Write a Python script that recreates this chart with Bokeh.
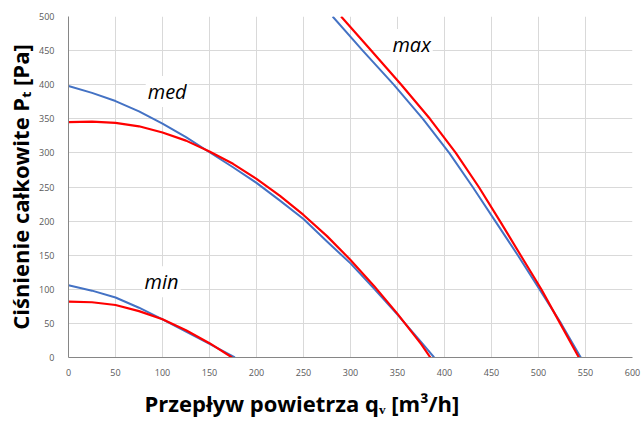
import math
from bokeh.plotting import figure
from bokeh.models import Label, FixedTicker, Range1d, Title
from bokeh.embed import file_html
from bokeh.resources import INLINE

# ---- data ----
x_ticks = [0, 50, 100, 150, 200, 250, 300, 350, 400, 450, 500, 550, 600]
y_ticks = [0, 50, 100, 150, 200, 250, 300, 350, 400, 450, 500]

min_blue_q = [0, 25, 50, 75, 100, 125, 150, 177]
min_blue_p = [106, 98, 88, 73, 56, 38, 20, 0]
min_red_q = [0, 25, 50, 75, 100, 125, 150, 174]
min_red_p = [82, 81, 77, 68, 56, 40, 21, 0]

med_blue_q = [0, 25, 50, 75, 100, 125, 150, 175, 200, 225, 250, 275, 300, 325, 350, 375, 389]
med_blue_p = [398, 388, 376, 361, 343, 323, 301, 279, 256, 230, 203, 170, 138, 101, 63, 23, 0]
med_red_q = [0, 25, 50, 75, 100, 125, 150, 175, 200, 225, 250, 275, 300, 325, 350, 375, 385]
med_red_p = [345, 346, 344, 339, 330, 318, 302, 284, 262, 237, 209, 178, 143, 105, 64, 20, 0]

max_blue_q = [281, 313, 346, 377, 405, 430, 454, 478, 501, 524, 545]
max_blue_p = [500, 450, 400, 350, 300, 250, 200, 150, 100, 50, 0]
max_red_q = [290, 322, 354, 384.5, 412, 436.5, 459, 481, 503, 523, 543]
max_red_p = [500, 450, 400, 350, 300, 250, 200, 150, 100, 50, 0]

curve_names = ["med", "min", "max"]
name_q = [105, 99, 365]
name_p = [390, 111, 459]

x_title = "Przepływ powietrza qᵥ [m³/h]"
y_title = "Ciśnienie całkowite Pₜ [Pa]"

BLUE = "#4472C4"
RED = "#FF0000"

p = figure(width=641, height=424, x_range=Range1d(0, 600), y_range=Range1d(0, 500),
           output_backend="svg", toolbar_location=None,
           min_border_left=67, min_border_right=9, min_border_top=16, min_border_bottom=67)

p.outline_line_color = None
p.background_fill_color = "white"

for ax, ticks in ((p.xaxis, x_ticks), (p.yaxis, y_ticks)):
    ax.ticker = FixedTicker(ticks=ticks)
    ax.major_tick_line_color = None
    ax.minor_tick_line_color = None
    ax.axis_line_color = "#868686"
    ax.axis_line_width = 1
    ax.major_label_text_font = "Open Sans"
    ax.major_label_text_font_size = "9px"
    ax.major_label_text_color = "#595959"
p.xaxis.major_label_standoff = 5
p.yaxis.major_label_standoff = 8

p.xgrid.ticker = FixedTicker(ticks=x_ticks)
p.ygrid.ticker = FixedTicker(ticks=y_ticks)
p.grid.grid_line_color = "#d9d9d9"
p.grid.grid_line_width = 1

for name, xq, yp in zip(curve_names, name_q, name_p):
    p.add_layout(Label(x=xq, y=yp, text=name, text_font="Open Sans", text_font_style="italic",
                       text_font_size="20px", text_color="black", text_align="center",
                       text_baseline="alphabetic", background_fill_color="white", padding=2,
                       level="underlay"))

for q, pr, c, w in ((min_blue_q, min_blue_p, BLUE, 2), (min_red_q, min_red_p, RED, 2.2),
                    (med_blue_q, med_blue_p, BLUE, 2), (med_red_q, med_red_p, RED, 2.2),
                    (max_blue_q, max_blue_p, BLUE, 2), (max_red_q, max_red_p, RED, 2.2)):
    p.line(q, pr, line_color=c, line_width=w, line_join="round")

p.add_layout(Title(text=x_title, text_font="Open Sans", text_font_style="bold",
                   text_font_size="22px", text_color="black", align="left",
                   offset=76, standoff=14), "below")
p.add_layout(Title(text=y_title, text_font="Open Sans", text_font_style="bold",
                   text_font_size="22px", text_color="black", align="center",
                   standoff=4), "left")

open("out.html", "w").write(file_html(p, INLINE))
